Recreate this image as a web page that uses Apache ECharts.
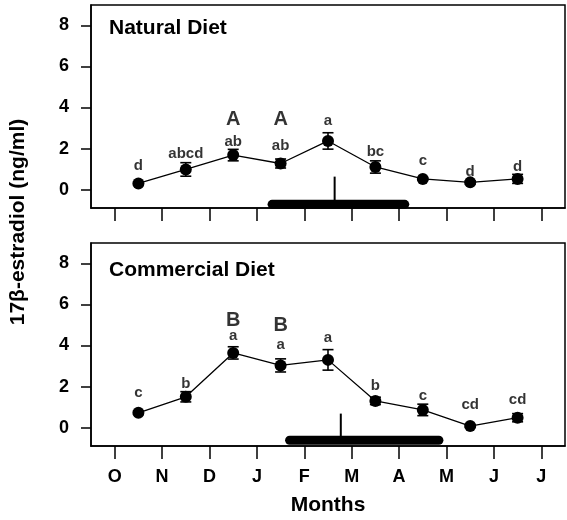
<!DOCTYPE html>
<html>
<head>
<meta charset="utf-8">
<script src="https://cdn.jsdelivr.net/npm/echarts@6/dist/echarts.min.js"></script>
<style>
html,body{margin:0;padding:0;background:#fff;}
#chart{width:567px;height:520px;}
</style>
</head>
<body>
<div id="chart"></div>
<script>
// ---- data ----
const monthLabels = ['O','N','D','J','F','M','A','M','J','J'];
const monthTicks = [0,1,2,3,4,5,6,7,8,9];
const yTicks = [0,2,4,6,8];
const sampleX = [0.5,1.5,2.5,3.5,4.5,5.5,6.5,7.5,8.5];

const naturalMean = [0.30,0.98,1.68,1.27,2.37,1.10,0.52,0.35,0.52];
const naturalSE   = [0.06,0.33,0.28,0.22,0.40,0.30,0.05,0.08,0.22];
const naturalLetters = ['d','abcd','ab','ab','a','bc','c','d','d'];
const naturalLetterY = [1.17,1.74,2.31,2.15,3.33,1.82,1.41,0.84,1.12];
const naturalGroup = [[2.5,3.40,'A'],[3.5,3.40,'A']];
const naturalPeriod = [3.32,6.12];
const naturalPeriodY = -0.72;
const naturalPeak = [4.64,0.63];

const commercialMean = [0.72,1.50,3.64,3.03,3.30,1.30,0.86,0.07,0.48];
const commercialSE   = [0.08,0.25,0.30,0.32,0.50,0.18,0.28,0.06,0.20];
const commercialLetters = ['c','b','a','a','a','b','c','cd','cd'];
const commercialLetterY = [1.69,2.15,4.45,4.05,4.38,2.01,1.53,1.09,1.37];
const commercialGroup = [[2.5,5.20,'B'],[3.5,4.98,'B']];
const commercialPeriod = [3.69,6.84];
const commercialPeriodY = -0.62;
const commercialPeak = [4.77,0.68];

const panelTitles = ['Natural Diet','Commercial Diet'];
const yTitle = '17β-estradiol (ng/ml)';
const xTitle = 'Months';

// ---- chart ----
const FONT = 'Liberation Sans, Arial, Helvetica, sans-serif';
const chart = echarts.init(document.getElementById('chart'), null, {renderer:'canvas'});

function xAxisDef(gridIndex, showLabels){
  return {
    type:'value', gridIndex, min:-0.5, max:9.5,
    axisLine:{show:true, onZero:false, lineStyle:{color:'#000', width:1.5}},
    axisTick:{show:true, length:13, customValues:monthTicks, lineStyle:{color:'#000', width:1.5}},
    axisLabel:{show:showLabels, customValues:monthTicks, margin:22,
      formatter:(v)=>monthLabels[Math.round(v)],
      color:'#000', fontWeight:'bold', fontSize:18, fontFamily:FONT},
    splitLine:{show:false},
    name: showLabels ? xTitle : '', nameLocation:'middle', nameGap:49,
    nameTextStyle:{color:'#000', fontWeight:'bold', fontSize:21, fontFamily:FONT}
  };
}
function yAxisDef(gridIndex){
  return {
    type:'value', gridIndex, min:-0.9, max:9.0,
    axisLine:{show:true, onZero:false, lineStyle:{color:'#000', width:1.5}},
    axisTick:{show:true, length:10, customValues:yTicks, lineStyle:{color:'#000', width:1.5}},
    axisLabel:{show:true, customValues:yTicks, margin:22,
      color:'#000', fontWeight:'bold', fontSize:18, fontFamily:FONT},
    splitLine:{show:false}
  };
}

function panelSeries(idx, mean, se, letters, letterY, group, period, periodY, peak){
  const pts = sampleX.map((x,i)=>[x, mean[i]]);
  const err = sampleX.map((x,i)=>[x, mean[i]-se[i], mean[i]+se[i]]);
  const lbl = sampleX.map((x,i)=>[x, letterY[i], letters[i]]);
  const labelStyle = (size)=>({show:true, position:'inside', formatter:(p)=>p.value[2],
        color:'#000', textBorderWidth:0, textBorderColor:'transparent',
        fontWeight:'bold', fontSize:size, fontFamily:FONT});
  return [
    { type:'line', xAxisIndex:idx, yAxisIndex:idx, data:pts, symbol:'circle', symbolSize:12,
      itemStyle:{color:'#000'}, lineStyle:{color:'#000', width:1.3}, z:5, silent:true, animation:false },
    { type:'custom', xAxisIndex:idx, yAxisIndex:idx, data:err, z:4, animation:false,
      renderItem:(params, api)=>{
        const x = api.value(0);
        const lo = api.coord([x, api.value(1)]);
        const hi = api.coord([x, api.value(2)]);
        const w = 5.5;
        const st = {stroke:'#000', lineWidth:1.6};
        return {type:'group', children:[
          {type:'line', shape:{x1:lo[0], y1:lo[1], x2:hi[0], y2:hi[1]}, style:st},
          {type:'line', shape:{x1:lo[0]-w, y1:lo[1], x2:lo[0]+w, y2:lo[1]}, style:st},
          {type:'line', shape:{x1:hi[0]-w, y1:hi[1], x2:hi[0]+w, y2:hi[1]}, style:st}
        ]};
      }
    },
    { type:'scatter', xAxisIndex:idx, yAxisIndex:idx, data:lbl, symbolSize:0, animation:false,
      itemStyle:{color:'#000'}, silent:true, label:labelStyle(15) },
    { type:'scatter', xAxisIndex:idx, yAxisIndex:idx, data:group, symbolSize:0, animation:false,
      itemStyle:{color:'#000'}, silent:true, label:labelStyle(20) },
    { type:'line', xAxisIndex:idx, yAxisIndex:idx, data:[[period[0], periodY],[period[1], periodY]],
      symbol:'none', lineStyle:{color:'#000', width:9, cap:'round'}, z:3, animation:false },
    { type:'line', xAxisIndex:idx, yAxisIndex:idx, data:[[peak[0], periodY],[peak[0], peak[1]]],
      symbol:'none', lineStyle:{color:'#000', width:2}, z:3, animation:false }
  ];
}

const option = {
  backgroundColor:'#fff',
  animation:false,
  grid:[
    {left:91, top:5, right:2, height:203, show:true, borderColor:'#000', borderWidth:1.5, backgroundColor:'transparent'},
    {left:91, top:243, right:2, height:203, show:true, borderColor:'#000', borderWidth:1.5, backgroundColor:'transparent'}
  ],
  xAxis:[xAxisDef(0,false), xAxisDef(1,true)],
  yAxis:[yAxisDef(0), yAxisDef(1)],
  graphic:[
    {type:'text', left:109, top:18, style:{text:panelTitles[0], fill:'#000', font:'bold 21px '+FONT}},
    {type:'text', left:109, top:260, style:{text:panelTitles[1], fill:'#000', font:'bold 21px '+FONT}},
    {type:'text', x:18, y:222, rotation:Math.PI/2,
      style:{text:yTitle, fill:'#000', font:'bold 21px '+FONT, textAlign:'center', textVerticalAlign:'middle'}}
  ],
  series:[
    ...panelSeries(0, naturalMean, naturalSE, naturalLetters, naturalLetterY, naturalGroup, naturalPeriod, naturalPeriodY, naturalPeak),
    ...panelSeries(1, commercialMean, commercialSE, commercialLetters, commercialLetterY, commercialGroup, commercialPeriod, commercialPeriodY, commercialPeak)
  ]
};
chart.setOption(option);
</script>
</body>
</html>
